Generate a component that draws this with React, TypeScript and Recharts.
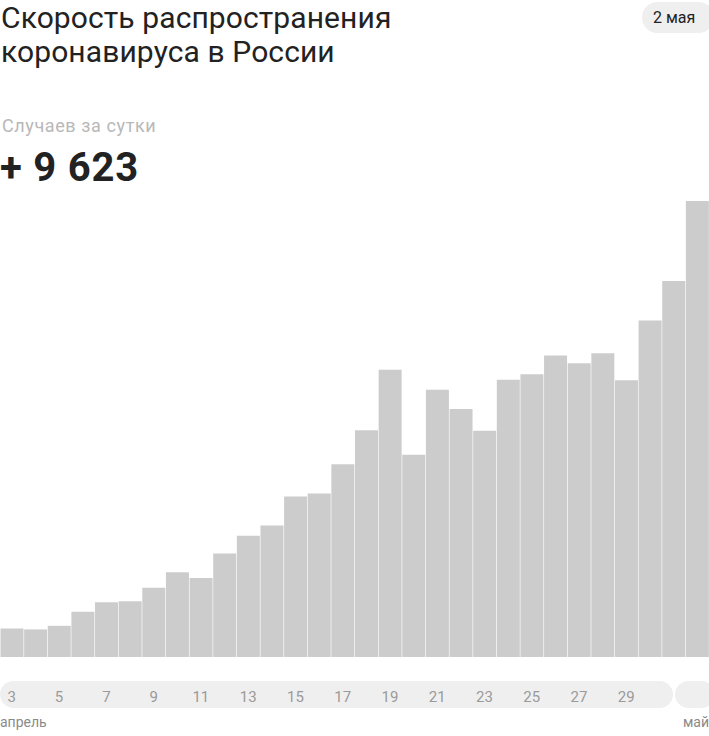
import { BarChart, Bar, XAxis, YAxis } from "recharts";

const days = [
  "3", "4", "5", "6", "7", "8", "9", "10", "11", "12", "13", "14", "15", "16", "17",
  "18", "19", "20", "21", "22", "23", "24", "25", "26", "27", "28", "29", "30", "1", "2",
];
const cases = [
  601, 582, 658, 954, 1154, 1175, 1459, 1786, 1667, 2186, 2558, 2774, 3388, 3448, 4070,
  4785, 6060, 4268, 5642, 5236, 4774, 5849, 5966, 6361, 6198, 6411, 5841, 7099, 7933, 9623,
];
const tickDays = ["3", "5", "7", "9", "11", "13", "15", "17", "19", "21", "23", "25", "27", "29"];
const monthLabels = ["апрель", "май"];

const data = days.map((day, i) => ({ day, cases: cases[i] }));

const FONT = "Roboto, 'Noto Sans', sans-serif";

function DayTick({ x, y, payload }: any) {
  if (!tickDays.includes(payload.value)) return null;
  return (
    <text x={x} y={y + 37} textAnchor="middle" fill="#9a9a9a" fontSize={15} fontFamily={FONT}>
      {payload.value}
    </text>
  );
}

export default function App() {
  return (
    <div style={{ position: "fixed", left: 0, top: 0, width: 709, height: 736, background: "#fff", fontFamily: FONT, overflow: "hidden" }}>
      <div style={{ position: "absolute", left: 1, top: 1, fontSize: 30, lineHeight: "34px", color: "#222", letterSpacing: 0.1 }}>
        Скорость распространения
        <br />
        коронавируса в России
      </div>
      <div style={{ position: "absolute", left: 642, top: 2, width: 72, height: 31, borderRadius: 16, background: "#efefef", color: "#222", fontSize: 16, lineHeight: "31px", paddingLeft: 11, boxSizing: "border-box" }}>
        2 мая
      </div>
      <div style={{ position: "absolute", left: 2, top: 115, fontSize: 18, color: "#b8b8b8", letterSpacing: 0.6 }}>Случаев за сутки</div>
      <div style={{ position: "absolute", left: 0, top: 144, fontSize: 40, fontWeight: 700, color: "#222", letterSpacing: 0.8 }}>+ 9 623</div>
      <div style={{ position: "absolute", left: 0, top: 681, width: 673, height: 27, borderRadius: 14, background: "#f0eff0" }} />
      <div style={{ position: "absolute", left: 675, top: 681, width: 40, height: 27, borderRadius: 14, background: "#f0eff0" }} />
      <div style={{ position: "absolute", left: 0, top: 714, fontSize: 14, color: "#8a8a8a" }}>{monthLabels[0]}</div>
      <div style={{ position: "absolute", right: 0, top: 714, fontSize: 14, color: "#8a8a8a" }}>{monthLabels[1]}</div>
      <div style={{ position: "absolute", left: 0, top: 0 }}>
        <BarChart width={709} height={736} data={data} margin={{ top: 201, right: 0, bottom: 0, left: 0 }} barCategoryGap={0.5}>
          <YAxis hide domain={[0, 9623]} />
          <XAxis dataKey="day" height={79} axisLine={false} tickLine={false} interval={0} tick={<DayTick />} />
          <Bar dataKey="cases" fill="#cccccc" isAnimationActive={false} />
        </BarChart>
      </div>
    </div>
  );
}
